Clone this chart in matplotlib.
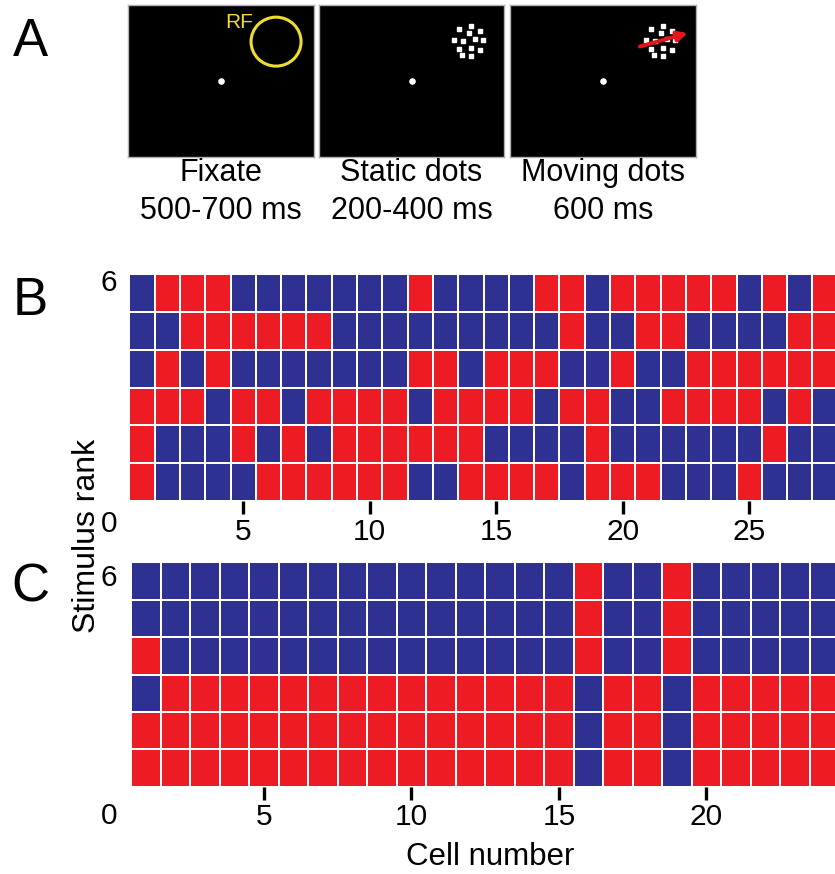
import numpy as np
import matplotlib
matplotlib.use("Agg")
import matplotlib.pyplot as plt
from matplotlib.colors import ListedColormap
from matplotlib.patches import Ellipse

plt.rcParams['font.family'] = ['Liberation Sans', 'DejaVu Sans']

# Panel A captions
epoch_names = ['Fixate', 'Static dots', 'Moving dots']
epoch_times = ['500-700 ms', '200-400 ms', '600 ms']

# Panel B: preferred (R) / non-preferred (B) per stimulus rank, rows rank 6 -> 1
ranks_b = {
    6: "BRRRBBBBBBBRBBBBRRBRRRRRBRBR",
    5: "BBRRRRRRBBBBBBBBBRBBRRBBBBRR",
    4: "BRBRBBBBBBBRRBRRRBBRBBRRRRRR",
    3: "RRRBRRBRRRRBRRRRBRRBBRRRRBRB",
    2: "RBBBRBRBRRRRRRBBBBRBBBBBBRBB",
    1: "RBBBBRRRRRRBBRRRRBRRRBBBRBBB",
}

# Panel C
ranks_c = {
    6: "BBBBBBBBBBBBBBBRBBRBBBBB",
    5: "BBBBBBBBBBBBBBBRBBRBBBBB",
    4: "RBBBBBBBBBBBBBBRBBRBBBBB",
    3: "BRRRRRRRRRRRRRRBRRBRRRRR",
    2: "RRRRRRRRRRRRRRRBRRBRRRRR",
    1: "RRRRRRRRRRRRRRRBRRBRRRRR",
}

xticks_b = [5, 10, 15, 20, 25]
xticks_c = [5, 10, 15, 20]

# dot patch positions inside the stimulus frame (fraction of frame)
dots_x = [0.756, 0.824, 0.869, 0.810, 0.731, 0.781, 0.843, 0.885, 0.756, 0.824, 0.869, 0.774, 0.821]
dots_y = [0.840, 0.864, 0.831, 0.814, 0.770, 0.765, 0.774, 0.770, 0.711, 0.715, 0.704, 0.671, 0.664]

RED = '#ED1C24'
BLUE = '#2E3192'

W, H = 835, 874
fig = plt.figure(figsize=(W / 100, H / 100), dpi=100)


def px_axes(left, top, right, bottom):
    return fig.add_axes([left / W, 1 - bottom / H, (right - left) / W, (bottom - top) / H])


# ---- Panel A ----
frames = [(128, 314), (319, 504), (510, 696)]
for i, (l, r) in enumerate(frames):
    ax = px_axes(l, 5, r, 157)
    ax.set_facecolor('black')
    ax.set_xlim(0, 1)
    ax.set_ylim(0, 1)
    ax.set_xticks([])
    ax.set_yticks([])
    for s in ax.spines.values():
        s.set_color('#b0b0b0')
        s.set_linewidth(1)
    ax.scatter([0.5], [0.5], s=14, color='white', zorder=3)
    if i == 0:
        ax.add_patch(Ellipse((0.796, 0.759), 0.269, 0.322, fill=False,
                             edgecolor='#F0DC30', linewidth=2.2))
        ax.text(0.60, 0.885, 'RF', color='#F0DC30', fontsize=15,
                ha='center', va='center')
    else:
        ax.scatter(dots_x, dots_y, marker='s', s=10, color='white', zorder=3)
    if i == 2:
        ax.annotate('', xy=(0.97, 0.82), xytext=(0.684, 0.722),
                    arrowprops=dict(arrowstyle='-|>', color='#E8141B', lw=2.8,
                                    mutation_scale=15), zorder=4)
    cx = (l + r) / 2 / W
    fig.text(cx, 1 - 173 / H, epoch_names[i], fontsize=22, ha='center', va='center')
    fig.text(cx, 1 - 211 / H, epoch_times[i], fontsize=22, ha='center', va='center')

fig.text(30 / W, 1 - 42 / H, 'A', fontsize=38, ha='center', va='center')

cmap = ListedColormap([BLUE, RED])


def grid_panel(ax, rows, xticks):
    ncell = len(rows[6])
    mat = np.array([[1 if c == 'R' else 0 for c in rows[r]] for r in range(1, 7)])
    xe = np.arange(ncell + 1) + 0.5
    ye = np.arange(7)
    ax.pcolormesh(xe, ye, mat, cmap=cmap, vmin=0, vmax=1,
                  edgecolors='white', linewidth=1.3)
    ax.set_ylim(0, 6)
    ax.set_xticks(xticks)
    ax.set_xticklabels([str(t) for t in xticks], fontsize=21.5)
    ax.set_yticks([])
    ax.tick_params(axis='x', direction='out', length=9, width=2.4, pad=3)
    for s in ax.spines.values():
        s.set_visible(False)


# ---- Panel B ----
ub = 25.3
x0b = 116.7
axb = px_axes(x0b + 0.5 * ub, 274.3, x0b + 28.5 * ub, 501)
grid_panel(axb, ranks_b, xticks_b)
axb.set_xlim(0.5, 28.5)
fig.text(109 / W, 1 - 283 / H, '6', fontsize=21.5, ha='center', va='center')
fig.text(109 / W, 1 - 524 / H, '0', fontsize=21.5, ha='center', va='center')
fig.text(30 / W, 1 - 301 / H, 'B', fontsize=38, ha='center', va='center')

# ---- Panel C ----
uc = 29.5
x0c = 116.5
axc = px_axes(x0c + 0.5 * uc, 562.3, x0c + 24.5 * uc, 786.7)
grid_panel(axc, ranks_c, xticks_c)
axc.set_xlim(0.5, 24.5)
fig.text(109 / W, 1 - 578 / H, '6', fontsize=21.5, ha='center', va='center')
fig.text(109 / W, 1 - 816 / H, '0', fontsize=21.5, ha='center', va='center')
fig.text(30 / W, 1 - 588 / H, 'C', fontsize=38, ha='center', va='center')

fig.text(87 / W, 1 - 536 / H, 'Stimulus rank', fontsize=23, rotation=90,
         ha='center', va='center')
fig.text(490 / W, 1 - 857 / H, 'Cell number', fontsize=22.5, ha='center', va='center')

fig.savefig('out.png', dpi=100)
